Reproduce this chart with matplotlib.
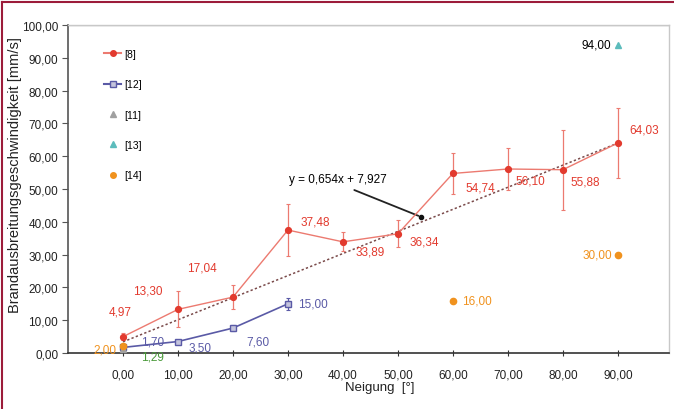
import matplotlib
matplotlib.use('Agg')
import matplotlib.pyplot as plt
from matplotlib.ticker import FuncFormatter
from matplotlib.lines import Line2D

plt.rcParams['font.family'] = ['Liberation Sans', 'DejaVu Sans']

# data
neigung = [0, 10, 20, 30, 40, 50, 60, 70, 80, 90]
ref8 = [4.97, 13.30, 17.04, 37.48, 33.89, 36.34, 54.74, 56.10, 55.88, 64.03]
ref8_err = [1.0, 5.5, 3.6, 7.9, 2.9, 4.1, 6.3, 6.5, 12.2, 10.7]

ref12_x = [0, 10, 20, 30]
ref12 = [1.70, 3.50, 7.60, 15.00]
ref12_err = [0.3, 0.5, 0.8, 1.8]

ref11_x = [0]
ref11 = [1.29]

ref13_x = [90]
ref13 = [94.00]

ref14_x = [0, 60, 90]
ref14 = [2.00, 16.00, 30.00]

# trend line end points as drawn in the chart
trend_x = [0, 90]
trend_y = [3.4, 64.0]
trend_text = 'y = 0,654x + 7,927'

RED = '#e23a2e'
RED_L = '#ec7a70'
BLUE = '#5a5aa6'
ORANGE = '#f0921e'
GREEN = '#4a9a3a'
GRAY = '#a0a0a0'
CYAN = '#5cbcbc'


def komma(v):
    return f'{v:.2f}'.replace('.', ',')


fig = plt.figure(figsize=(6.74, 4.10), dpi=100)
ax = fig.add_axes([68 / 674, 56 / 410, 601 / 674, 328 / 410])

# trend line
ax.plot(trend_x, trend_y, color='#7a4a4a', lw=1.1, ls=(0, (1.5, 1.5)), zorder=2)

# [8]
ax.errorbar(neigung, ref8, yerr=ref8_err, color=RED_L, lw=1.0, elinewidth=0.9,
            capsize=1.5, capthick=0.8, marker='o', ms=4.2, mfc=RED, mec=RED, zorder=3)
# [12]
ax.errorbar(ref12_x, ref12, yerr=ref12_err, color=BLUE, lw=1.2, elinewidth=0.9,
            capsize=1.5, capthick=0.8, marker='s', ms=4.2, mfc='#c4c4dc', mec=BLUE, zorder=3)
# [11], [13], [14]
ax.plot(ref11_x, ref11, ls='none', marker='^', ms=4.5, color=GRAY, zorder=4)
ax.plot(ref13_x, ref13, ls='none', marker='^', ms=4.5, color=CYAN, zorder=4)
ax.plot(ref14_x, ref14, ls='none', marker='o', ms=4.5, color=ORANGE, zorder=4)

# value labels (offsets in pixels)
off8 = [(-3, 25), (-30, 19), (-31, 30), (27, 9), (27, -10),
        (26, -8), (27, -14), (22, -12), (22, -12), (26, 13)]
for x, y, o in zip(neigung, ref8, off8):
    ax.annotate(komma(y), (x, y), xytext=o, textcoords='offset pixels',
                ha='center', va='center', color=RED, fontsize=8.5)
off12 = [(30, 6), (22, -6), (25, -13), (25, 0)]
for x, y, o in zip(ref12_x, ref12, off12):
    ax.annotate(komma(y), (x, y), xytext=o, textcoords='offset pixels',
                ha='center', va='center', color=BLUE, fontsize=8.5)
off14 = [(-18, -3), (24, 0), (-21, 0)]
for x, y, o in zip(ref14_x, ref14, off14):
    ax.annotate(komma(y), (x, y), xytext=o, textcoords='offset pixels',
                ha='center', va='center', color=ORANGE, fontsize=8.5)
ax.annotate(komma(ref11[0]), (ref11_x[0], ref11[0]), xytext=(29, -8),
            textcoords='offset pixels', ha='center', va='center', color=GREEN, fontsize=8.5)
ax.annotate(komma(ref13[0]), (ref13_x[0], ref13[0]), xytext=(-22, 0),
            textcoords='offset pixels', ha='center', va='center', color='black', fontsize=8.5)

# trend equation with arrow
ax.annotate('', xy=(54.2, 41.5), xytext=(41.6, 50.0),
            arrowprops=dict(arrowstyle='-', color='#222222', lw=1.3))
ax.plot([54.2], [41.5], marker='o', ms=3, color='#111111', zorder=5)
ax.text(30.2, 53.0, trend_text, fontsize=8.5, color='black', ha='left', va='center')

# axes styling
ax.set_xlim(-10, 99.3)
ax.set_ylim(0, 100)
ax.set_xticks(neigung)
ax.set_yticks(range(0, 101, 10))
ax.xaxis.set_major_formatter(FuncFormatter(lambda v, p: komma(v)))
ax.yaxis.set_major_formatter(FuncFormatter(lambda v, p: komma(v)))
ax.tick_params(axis='x', direction='inout', length=5, pad=9, labelsize=8.5,
               color='#333333', labelcolor='#222222')
ax.tick_params(axis='y', direction='out', length=4, pad=3, labelsize=8.5,
               color='#555555', labelcolor='#222222')
ax.spines['left'].set_color('#555555')
ax.spines['left'].set_linewidth(1.2)
ax.spines['bottom'].set_position(('data', 0))
ax.spines['bottom'].set_color('#333333')
ax.spines['bottom'].set_linewidth(1.2)
for s in ['top', 'right']:
    ax.spines[s].set_color('#c8c8c8')
    ax.spines[s].set_linewidth(1.0)
ax.axhline(100, color='#bbbbbb', lw=1.0)

fig.text(15 / 674, 1 - 175 / 410, 'Brandausbreitungsgeschwindigkeit [mm/s]',
         fontsize=10.5, rotation=90, ha='center', va='center', color='#222222')
fig.text(380 / 674, 1 - 388 / 410, 'Neigung  [°]', fontsize=9.5,
         ha='center', va='center', color='#222222')

# legend
handles = [
    Line2D([], [], color=RED_L, marker='o', mfc=RED, mec=RED, ms=4),
    Line2D([], [], color=BLUE, marker='s', mfc='#c4c4dc', mec=BLUE, ms=4),
    Line2D([], [], ls='none', color=GRAY, marker='^', ms=4),
    Line2D([], [], ls='none', color=CYAN, marker='^', ms=4),
    Line2D([], [], ls='none', color=ORANGE, marker='o', ms=4),
]
labels = ['[8]', '[12]', '[11]', '[13]', '[14]']
ax.legend(handles, labels, loc='upper left', bbox_to_anchor=(0.045, 0.955),
          frameon=False, fontsize=7.5, labelspacing=1.95, handlelength=1.6,
          handletextpad=0.3)

# dark red page border on left and top
fig.add_artist(Line2D([0.003, 0.003], [0, 0.993], color='#9c1c3a', lw=1.5))
fig.add_artist(Line2D([0.003, 1.0], [0.993, 0.993], color='#9c1c3a', lw=1.5))

fig.savefig('out.png', dpi=100)
